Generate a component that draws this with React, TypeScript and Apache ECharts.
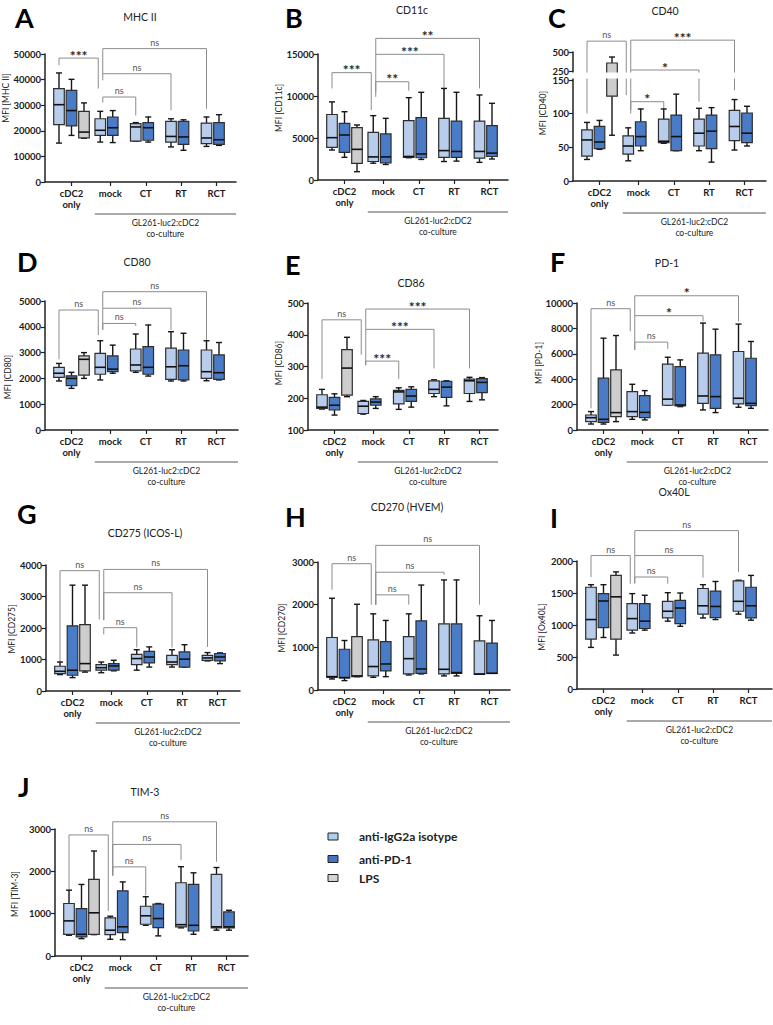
import React, { useEffect, useRef } from "react";
import * as echarts from "echarts";

// ---------- categories ----------
const groupLabels = ["cDC2\nonly", "mock", "CT", "RT", "RCT"];
const treatmentNames = ["anti-IgG2a isotype", "anti-PD-1", "LPS"];
// order of the boxes in each panel: [group, treatment]
const boxOrder = [
  [0, 0], [0, 1], [0, 2],
  [1, 0], [1, 1],
  [2, 0], [2, 1],
  [3, 0], [3, 1],
  [4, 0], [4, 1],
];

// ---------- box values: [min, q1, median, q3, max] ----------
const mhcII = [
  [15200, 22400, 30200, 36500, 42600],
  [18200, 21900, 27900, 35800, 40100],
  [17100, 17200, 19500, 27600, 30900],
  [15600, 18200, 20200, 24700, 27600],
  [15400, 18200, 21200, 25400, 27900],
  [16000, 16000, 21500, 22800, 23200],
  [15600, 16300, 21200, 23200, 25400],
  [13700, 15600, 17800, 23700, 24700],
  [12400, 14700, 17600, 23700, 24300],
  [13900, 15000, 17200, 23000, 25400],
  [14300, 14700, 16500, 23200, 26300],
];
const cd11c = [
  [3570, 3890, 5040, 7800, 9300],
  [2700, 3290, 5360, 6750, 8130],
  [990, 1980, 3650, 6230, 6550],
  [2000, 2200, 2750, 5670, 7660],
  [1850, 2050, 2750, 5480, 7340],
  [2650, 2700, 2800, 7060, 9800],
  [2450, 2650, 3100, 7420, 10440],
  [2200, 2700, 3500, 7340, 10900],
  [2250, 2700, 3400, 7020, 10440],
  [2100, 2600, 3400, 7020, 10120],
  [2500, 2800, 3200, 6470, 9130],
];
const cd40 = [
  [32, 37, 61, 76, 87],
  [47, 48, 58, 81, 90],
  [68, 126, 200, 355, 434],
  [30, 40, 52, 67, 79],
  [45, 52, 66, 88, 107],
  [56, 57, 59, 92, 107],
  [45, 45, 66, 98, 129],
  [45, 52, 71, 92, 108],
  [28, 48, 74, 98, 109],
  [46, 60, 81, 105, 121],
  [52, 57, 71, 101, 111],
];
const cd80 = [
  [1900, 2040, 2200, 2430, 2580],
  [1615, 1720, 2000, 2100, 2235],
  [2000, 2130, 2740, 2870, 3000],
  [1940, 2160, 2430, 2970, 3460],
  [2200, 2260, 2360, 2870, 3290],
  [2235, 2290, 2520, 3140, 3720],
  [2090, 2160, 2430, 3230, 4070],
  [1900, 1960, 2450, 3170, 3810],
  [1900, 1940, 2490, 3100, 3750],
  [1910, 2000, 2260, 3100, 3460],
  [1940, 1960, 2220, 2910, 3390],
];
const cd86 = [
  [166, 168, 172, 211, 228],
  [147, 163, 178, 203, 214],
  [205, 210, 295, 353, 392],
  [150, 152, 175, 190, 193],
  [168, 178, 188, 198, 205],
  [165, 182, 220, 225, 233],
  [172, 190, 207, 228, 236],
  [205, 215, 228, 255, 258],
  [176, 203, 235, 253, 255],
  [190, 215, 255, 260, 266],
  [195, 218, 250, 262, 265],
];
const pd1 = [
  [470, 660, 970, 1180, 1450],
  [470, 600, 840, 4080, 7230],
  [660, 1050, 1370, 4730, 7440],
  [840, 1050, 1450, 3020, 3600],
  [790, 970, 1390, 2710, 3100],
  [1950, 1950, 2430, 5180, 5730],
  [1840, 1890, 1970, 4990, 5520],
  [1580, 2100, 2680, 6050, 8420],
  [1370, 1710, 2630, 5920, 7940],
  [1790, 2050, 2500, 6180, 8340],
  [1710, 1920, 2100, 5650, 6970],
];
const cd275 = [
  [520, 550, 625, 785, 920],
  [425, 500, 660, 2070, 3360],
  [600, 640, 870, 2110, 3360],
  [580, 660, 740, 840, 920],
  [640, 660, 795, 870, 975],
  [660, 840, 1030, 1165, 1310],
  [760, 890, 1080, 1260, 1400],
  [760, 840, 920, 1130, 1310],
  [760, 760, 1010, 1240, 1470],
  [955, 975, 1050, 1130, 1220],
  [870, 955, 1080, 1190, 1210],
];
const cd270 = [
  [258, 298, 313, 1230, 2150],
  [220, 282, 290, 955, 1160],
  [313, 313, 330, 1250, 2010],
  [298, 330, 550, 1175, 1785],
  [313, 446, 610, 1135, 1630],
  [352, 376, 735, 1250, 1785],
  [376, 391, 493, 1620, 2460],
  [330, 376, 485, 1550, 2580],
  [330, 391, 407, 1550, 2580],
  [368, 368, 376, 1150, 1740],
  [391, 391, 391, 1100, 1630],
];
const ox40l = [
  [650, 780, 1085, 1590, 1630],
  [805, 960, 1375, 1490, 1630],
  [530, 780, 1440, 1775, 1830],
  [875, 920, 1100, 1335, 1490],
  [920, 945, 1060, 1335, 1465],
  [1060, 1110, 1215, 1370, 1505],
  [980, 1020, 1265, 1385, 1500],
  [1110, 1170, 1300, 1570, 1630],
  [1085, 1115, 1290, 1530, 1680],
  [1170, 1215, 1370, 1690, 1700],
  [1075, 1110, 1300, 1590, 1775],
];
const tim3 = [
  [490, 513, 830, 1240, 1555],
  [410, 450, 513, 1120, 1690],
  [505, 513, 1020, 1810, 2480],
  [395, 505, 610, 900, 940],
  [387, 550, 690, 1540, 1750],
  [725, 750, 950, 1175, 1400],
  [475, 670, 885, 1225, 1240],
  [665, 690, 740, 1730, 2110],
  [513, 590, 725, 1690, 1965],
  [610, 665, 690, 1930, 2090],
  [610, 665, 690, 1040, 1080],
];

// ---------- significance brackets: [fromGroup, toGroup, leftEnd, line, rightEnd, label] ----------
const mhcIIBr = [
  [0, 1, 45600, 48400, 36500, "***"],
  [1, 2, 31000, 33200, 26000, "ns"],
  [1, 3, 39700, 42300, 28000, "ns"],
  [1, 4, 42300, 52100, 28600, "ns"],
];
const cd11cBr = [
  [0, 1, 10900, 12780, 8330, "***"],
  [1, 2, 10500, 11700, 10630, "**"],
  [1, 3, 9900, 14960, 7340, "***"],
  [1, 4, 14960, 16860, 10900, "**"],
];
const cd40Br = [
  [0, 1, 100.5, 643, 127.7, "ns"],
  [1, 2, 105, 117.8, 107, "*"],
  [1, 3, 100, 263, 117.8, "*"],
  [1, 4, 263, 656, 135, "***"],
];
const cd80Br = [
  [0, 1, 2740, 4650, 3680, "ns"],
  [1, 2, 3880, 4130, 4030, "ns"],
  [1, 3, 3880, 4720, 3880, "ns"],
  [1, 4, 4720, 5360, 3490, "ns"],
];
const cd86Br = [
  [0, 1, 261, 447, 337, "ns"],
  [1, 2, 304, 317, 261, "***"],
  [1, 3, 304, 417, 294, "***"],
  [1, 4, 417, 481, 294, "***"],
];
const pd1Br = [
  [0, 1, 1710, 9550, 7760, "ns"],
  [1, 2, 6310, 6920, 6390, "ns"],
  [1, 3, 6310, 9000, 8550, "*"],
  [1, 4, 9000, 10570, 8550, "*"],
];
const cd275Br = [
  [0, 1, 920, 3820, 2270, "ns"],
  [1, 2, 1800, 2010, 1380, "ns"],
  [1, 3, 2250, 3120, 1380, "ns"],
  [1, 4, 2250, 3860, 1400, "ns"],
];
const cd270Br = [
  [0, 1, 2350, 2960, 2000, "ns"],
  [1, 2, 2000, 2230, 2000, "ns"],
  [1, 3, 2000, 2760, 2700, "ns"],
  [1, 4, 2000, 3390, 2000, "ns"],
];
const ox40lBr = [
  [0, 1, 1750, 2085, 1645, "ns"],
  [1, 2, 1650, 1750, 1645, "ns"],
  [1, 3, 1650, 2085, 1740, "ns"],
  [1, 4, 2085, 2475, 1830, "ns"],
];
const tim3Br = [
  [0, 1, 1555, 2860, 1065, "ns"],
  [1, 2, 1900, 2105, 1435, "ns"],
  [1, 3, 1900, 2635, 2265, "ns"],
  [1, 4, 1900, 3170, 2225, "ns"],
];

// ---------- panels ----------
const panels = [
  { letter: "A", title: "MHC II", yName: "MFI [MHC II]", boxes: mhcII, brackets: mhcIIBr, yMin: 0, yMax: 50000, yStep: 10000 },
  { letter: "B", title: "CD11c", yName: "MFI [CD11c]", boxes: cd11c, brackets: cd11cBr, yMin: 0, yMax: 15000, yStep: 5000 },
  { letter: "C", title: "CD40", yName: "MFI [CD40]", boxes: cd40, brackets: cd40Br, yMin: 0, yMax: 500, yStep: 50, broken: true },
  { letter: "D", title: "CD80", yName: "MFI [CD80]", boxes: cd80, brackets: cd80Br, yMin: 0, yMax: 5000, yStep: 1000 },
  { letter: "E", title: "CD86", yName: "MFI [CD86]", boxes: cd86, brackets: cd86Br, yMin: 100, yMax: 500, yStep: 100 },
  { letter: "F", title: "PD-1", yName: "MFI [PD-1]", boxes: pd1, brackets: pd1Br, yMin: 0, yMax: 10000, yStep: 2000 },
  { letter: "G", title: "CD275 (ICOS-L)", yName: "MFI [CD275]", boxes: cd275, brackets: cd275Br, yMin: 0, yMax: 4000, yStep: 1000 },
  { letter: "H", title: "CD270 (HVEM)", yName: "MFI [CD270]", boxes: cd270, brackets: cd270Br, yMin: 0, yMax: 3000, yStep: 1000 },
  { letter: "I", title: "Ox40L", yName: "MFI [Ox40L]", boxes: ox40l, brackets: ox40lBr, yMin: 0, yMax: 2000, yStep: 500 },
  { letter: "J", title: "TIM-3", yName: "MFI [TIM-3]", boxes: tim3, brackets: tim3Br, yMin: 0, yMax: 3000, yStep: 1000 },
];

// ---------- layout (pixels) ----------
const layout: Record<string, any> = {
  A: { x0: 45, top: 54, bot: 182, end: 236, letter: [15, 17], title: [140, 17], name: [6, 98] },
  B: { x0: 318, top: 54, bot: 180, end: 508, letter: [285, 17], title: [412, 10], name: [279, 108] },
  C: { x0: 573, top: 52, bot: 181, end: 766, letter: [548, 17], title: [665, 11], name: [543, 113] },
  D: { x0: 45, top: 301, bot: 430, end: 238, letter: [17, 261], title: [137, 262], name: [8, 377] },
  E: { x0: 308, top: 303, bot: 430, end: 498, letter: [285, 264], title: [411, 283], name: [279, 363] },
  F: { x0: 577, top: 303, bot: 430, end: 768, letter: [550, 261], title: [667, 263], name: [539, 363] },
  G: { x0: 46, top: 565, bot: 691, end: 240, letter: [17, 513], title: [145, 533], name: [12, 629] },
  H: { x0: 318, top: 562, bot: 690, end: 510, letter: [285, 516], title: [407, 507], name: [282, 628] },
  I: { x0: 577, top: 561, bot: 689, end: 772, letter: [550, 517], title: [674, 492], name: [542, 627] },
  J: { x0: 55, top: 829, bot: 956, end: 248, letter: [18, 786], title: [145, 792], name: [15, 894] },
};

const FONT = "Lato, 'Open Sans', 'Liberation Sans', sans-serif";
const BOX_FILL = ["#B8CDEB", "#4A7BC6", "#CDCDCD"];
const LEGEND_FILL = ["#A9D1F2", "#4472C4", "#D3D3D3"];
const UNIT = 12.5; // px per box slot
const FIRST = 1.12;
const GROUP_START = [0, 3.3, 6.14, 8.96, 11.8];
const boxPos = (g: number, t: number) => FIRST + GROUP_START[g] + t;
const tickPos = GROUP_START.map((s, g) => FIRST + s + (g === 0 ? 1 : 0.8));
const labelFor = (v: number) => {
  let best = 0;
  tickPos.forEach((p, i) => {
    if (Math.abs(p - v) < Math.abs(tickPos[best] - v)) best = i;
  });
  return groupLabels[best];
};

// broken axis for CD40: 0-150 linear, gap, 250-500 compressed
const BRK_GAP = 13.4;
const BRK_K = 0.1129;
const brk = (v: number) =>
  v <= 150 ? v : v >= 250 ? 150 + BRK_GAP + (v - 250) * BRK_K : 150 + ((v - 150) / 100) * BRK_GAP;
const unbrk = (d: number) =>
  d <= 150 ? d : d >= 150 + BRK_GAP - 0.01 ? 250 + (d - 150 - BRK_GAP) / BRK_K : 150 + ((d - 150) / BRK_GAP) * 100;

function renderBox(params: any, api: any) {
  const x = api.value(0);
  const t = api.value(6);
  const pMin = api.coord([x, api.value(1)]);
  const pQ1 = api.coord([x, api.value(2)]);
  const pMed = api.coord([x, api.value(3)]);
  const pQ3 = api.coord([x, api.value(4)]);
  const pMax = api.coord([x, api.value(5)]);
  const cx = pMin[0];
  const hw = 5.3;
  const cap = 3;
  const ws = { stroke: "#161616", lineWidth: 1.4 };
  return {
    type: "group",
    children: [
      { type: "line", shape: { x1: cx, y1: pMax[1], x2: cx, y2: pQ3[1] }, style: ws },
      { type: "line", shape: { x1: cx - cap, y1: pMax[1], x2: cx + cap, y2: pMax[1] }, style: ws },
      { type: "line", shape: { x1: cx, y1: pQ1[1], x2: cx, y2: pMin[1] }, style: ws },
      { type: "line", shape: { x1: cx - cap, y1: pMin[1], x2: cx + cap, y2: pMin[1] }, style: ws },
      {
        type: "rect",
        shape: { x: cx - hw, y: pQ3[1], width: hw * 2, height: Math.max(pQ1[1] - pQ3[1], 0.5) },
        style: { fill: BOX_FILL[t], stroke: "#2e2e2e", lineWidth: 1.2 },
      },
      { type: "line", shape: { x1: cx - hw, y1: pMed[1], x2: cx + hw, y2: pMed[1] }, style: { stroke: "#111", lineWidth: 1.6 } },
    ],
  };
}

function makeBracketRender(brackets: any[]) {
  return (params: any, api: any) => {
    const label = brackets[params.dataIndex][5] as string;
    const x1v = api.value(0);
    const x2v = api.value(1);
    const a = api.coord([x1v, api.value(2)]);
    const b = api.coord([x1v, api.value(3)]);
    const c = api.coord([x2v, api.value(3)]);
    const d = api.coord([x2v, api.value(4)]);
    const dx1 = api.value(5);
    const dx2 = api.value(6);
    const x1 = a[0] + dx1;
    const x2 = c[0] + dx2;
    const stars = label !== "ns";
    return {
      type: "group",
      children: [
        {
          type: "polyline",
          shape: { points: [[x1, a[1]], [x1, b[1]], [x2, c[1]], [x2, d[1]]] },
          style: { stroke: "#8c8c8c", lineWidth: 1, fill: "none" },
        },
        {
          type: "text",
          style: {
            text: label,
            x: (x1 + x2) / 2,
            y: b[1] + (stars ? 4 : -2),
            align: "center",
            verticalAlign: "bottom",
            textAlign: "center",
            textVerticalAlign: "bottom",
            fontSize: stars ? 14 : 9,
            fontWeight: stars ? "bold" : "normal",
            fontFamily: FONT,
            fill: stars ? "#2a2a2a" : "#555",
          },
        },
      ],
    };
  };
}

function buildOption() {
  const grid: any[] = [];
  const xAxis: any[] = [];
  const yAxis: any[] = [];
  const series: any[] = [];
  const graphic: any[] = [];

  panels.forEach((p, i) => {
    const L = layout[p.letter];
    const width = L.end - L.x0;
    const height = L.bot - L.top;
    const yf = p.broken ? brk : (v: number) => v;
    grid.push({ left: L.x0, top: L.top, width, height });
    xAxis.push({
      type: "value",
      gridIndex: i,
      min: 0,
      max: width / UNIT,
      splitLine: { show: false },
      axisLine: { show: true, lineStyle: { color: "#222", width: 1.5 } },
      axisTick: { show: true, customValues: tickPos, length: 4, lineStyle: { color: "#222", width: 1.2 } },
      axisLabel: {
        customValues: tickPos,
        formatter: (v: number) => labelFor(v),
        fontFamily: FONT,
        fontWeight: "bold",
        fontSize: 9.5,
        lineHeight: 11,
        color: "#1a1a1a",
        margin: 6,
      },
    });
    const yBase: any = {
      type: "value",
      gridIndex: i,
      splitLine: { show: false },
      axisLine: { show: true, lineStyle: { color: "#222", width: 1.5 } },
      axisTick: { show: true, length: 4, lineStyle: { color: "#222", width: 1.2 } },
      axisLabel: {
        fontFamily: FONT,
        fontWeight: "bold",
        fontSize: 9.5,
        color: "#1a1a1a",
        margin: 4,
        formatter: (v: number) => String(v),
      },
    };
    if (p.broken) {
      const cv = [0, 50, 100, 150, brk(250), brk(500)];
      yBase.min = 0;
      yBase.max = brk(500);
      yBase.axisTick.customValues = cv;
      yBase.axisLabel.customValues = cv;
      yBase.axisLabel.formatter = (v: number) => String(Math.round(unbrk(v)));
    } else {
      yBase.min = p.yMin;
      yBase.max = p.yMax;
      yBase.interval = p.yStep;
    }
    yAxis.push(yBase);

    series.push({
      type: "custom",
      xAxisIndex: i,
      yAxisIndex: i,
      silent: true,
      z: 3,
      renderItem: renderBox,
      encode: { x: 0, y: [1, 2, 3, 4, 5] },
      data: p.boxes.map((b, j) => {
        const [g, t] = boxOrder[j];
        return [boxPos(g, t), ...b.map(yf), t];
      }),
    });
    series.push({
      type: "custom",
      xAxisIndex: i,
      yAxisIndex: i,
      silent: true,
      z: 2,
      renderItem: makeBracketRender(p.brackets),
      encode: { x: [0, 1], y: [2, 3, 4] },
      data: p.brackets.map((br: any[]) => [
        boxPos(br[0], 0),
        boxPos(br[1], 0),
        yf(br[2]),
        yf(br[3]),
        yf(br[4]),
        br[0] === 1 ? 2.5 : 0,
        br[1] === 1 ? -2 : 0,
      ]),
    });

    // panel letter
    graphic.push({
      type: "text",
      x: L.letter[0],
      y: L.letter[1],
      style: {
        text: p.letter, x: 0, y: 0, align: "left", verticalAlign: "middle",
        textAlign: "left", textVerticalAlign: "middle",
        fontFamily: FONT, fontWeight: "bold", fontSize: 27, fill: "#000",
      },
    });
    // panel title
    graphic.push({
      type: "text",
      x: L.title[0],
      y: L.title[1],
      style: {
        text: p.title, x: 0, y: 0, align: "center", verticalAlign: "middle",
        textAlign: "center", textVerticalAlign: "middle",
        fontFamily: FONT, fontSize: 10.5, fill: "#222",
      },
    });
    // y axis name
    graphic.push({
      type: "text",
      x: L.name[0],
      y: L.name[1],
      rotation: Math.PI / 2,
      style: {
        text: p.yName, x: 0, y: 0, align: "center", verticalAlign: "middle",
        textAlign: "center", textVerticalAlign: "middle",
        fontFamily: FONT, fontSize: 8.5, fill: "#222",
      },
    });
    // co-culture underline + label
    const ux1 = L.x0 + boxPos(1, 0) * UNIT - 5.5;
    const ux2 = L.end;
    graphic.push({
      type: "line",
      shape: { x1: ux1, y1: L.bot + 32, x2: ux2, y2: L.bot + 32 },
      style: { stroke: "#555", lineWidth: 1 },
    });
    ["GL261-luc2:cDC2", "co-culture"].forEach((s, k) => {
      graphic.push({
        type: "text",
        x: (ux1 + ux2) / 2,
        y: L.bot + 41 + k * 11,
        style: {
          text: s, x: 0, y: 0, align: "center", verticalAlign: "middle",
          textAlign: "center", textVerticalAlign: "middle",
          fontFamily: FONT, fontSize: 8.5, fill: "#222",
        },
      });
    });
    // axis break cover
    if (p.broken) {
      const pxPer = height / brk(500);
      const y150 = L.bot - 150 * pxPer;
      const y250 = L.bot - brk(250) * pxPer;
      graphic.push({
        type: "rect",
        z: 100,
        shape: { x: L.x0 - 1.5, y: y250 + 1.4, width: width, height: y150 - y250 - 2.8 },
        style: { fill: "#fff" },
      });
    }
  });

  // legend
  const legendTop = [833, 855.5, 874.5];
  treatmentNames.forEach((n, k) => {
    graphic.push({
      type: "rect",
      shape: { x: 328, y: legendTop[k], width: 10, height: 7 },
      style: { fill: LEGEND_FILL[k], stroke: "#222", lineWidth: 1 },
    });
    graphic.push({
      type: "text",
      x: 359,
      y: legendTop[k] + 3.8,
      style: {
        text: n, x: 0, y: 0, align: "left", verticalAlign: "middle",
        textAlign: "left", textVerticalAlign: "middle",
        fontFamily: FONT, fontWeight: "bold", fontSize: 12, fill: "#222",
      },
    });
  });

  return {
    animation: false,
    backgroundColor: "#ffffff",
    grid,
    xAxis,
    yAxis,
    series,
    graphic,
  };
}

export default function App() {
  const ref = useRef<HTMLDivElement>(null);
  useEffect(() => {
    document.body.style.margin = "0";
    if (!ref.current) return;
    const chart = echarts.init(ref.current, undefined, { renderer: "svg" });
    chart.setOption(buildOption() as any);
    return () => chart.dispose();
  }, []);
  return (
    <div
      ref={ref}
      style={{ position: "absolute", left: 0, top: 0, width: 773, height: 1025, background: "#fff" }}
    />
  );
}
